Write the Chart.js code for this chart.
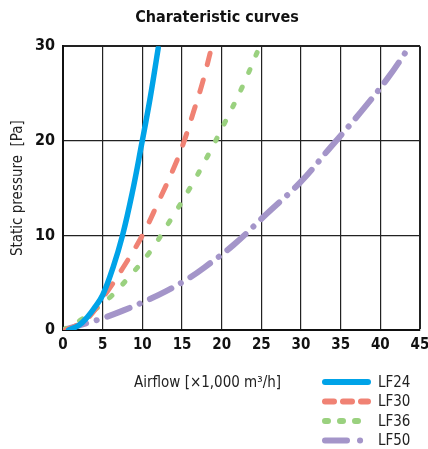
<!DOCTYPE html>
<html>
<head>
<meta charset="utf-8">
<script src="https://cdn.jsdelivr.net/npm/chart.js@4.4.1/dist/chart.umd.min.js"></script>
<style>
  html, body { margin: 0; padding: 0; background: #fff; }
  #wrap { width: 428px; height: 449px; }
</style>
</head>
<body>
<div id="wrap"><canvas id="chartCurves"></canvas></div>
<script>
// values
const seriesNames = ['LF24', 'LF30', 'LF36', 'LF50'];

const lf24Flow = [0.7, 2, 3.1, 4, 5, 6.3, 7.5, 8.7, 9.9, 11, 12];
const lf24Pressure = [0, 0.5, 1.4, 2.4, 3.7, 6.6, 10, 14.4, 19.6, 24.6, 29.8];

const lf30Flow = [0.3, 1.5, 3.1, 5.6, 7.5, 10, 12, 14, 15.2, 16.5, 17.6, 18.7];
const lf30Pressure = [0, 0.4, 1.2, 4.1, 6.5, 10, 13.5, 17.2, 19.8, 23.2, 26.2, 29.8];

const lf36Flow = [0, 2.3, 4.4, 6.1, 7.9, 10.9, 13.6, 16, 18.3, 20.5, 22.6, 24.8];
const lf36Pressure = [0, 1.1, 2.4, 3.6, 5.2, 8.2, 11.7, 15, 18.5, 22.1, 25.7, 30];

const lf50Flow = [0, 2.9, 5.2, 7.7, 10.5, 13, 15.9, 17.8, 21.5, 25.7, 29.9, 33.7, 37.5, 41, 43.7];
const lf50Pressure = [0, 0.7, 1.3, 2.1, 3.1, 4.1, 5.5, 6.6, 9, 12.3, 15.6, 19.3, 23, 26.7, 30];

const xTicks = [0, 5, 10, 15, 20, 25, 30, 35, 40, 45];
const yTicks = [0, 10, 20, 30];

const COLORS = {
    blue: '#00a3e8',
    salmon: '#f08274',
    green: '#9ad17f',
    purple: '#a495c9'
};

const NARROW = "'DejaVu Sans Condensed', 'Liberation Sans Narrow', 'Roboto', sans-serif";

function toPoints(xs, ys) {
    return xs.map((x, i) => ({ x: x, y: ys[i] }));
}

const datasets = [
    {
        label: seriesNames[0],
        data: toPoints(lf24Flow, lf24Pressure),
        borderColor: COLORS.blue,
        borderWidth: 5.5,
        borderDash: [],
        legendDash: []
    }, {
        label: seriesNames[1],
        data: toPoints(lf30Flow, lf30Pressure),
        borderColor: COLORS.salmon,
        borderWidth: 5,
        borderDash: [12, 16],
        legendDash: [9, 9]
    }, {
        label: seriesNames[2],
        data: toPoints(lf36Flow, lf36Pressure),
        borderColor: COLORS.green,
        borderWidth: 5,
        borderDash: [3, 16],
        legendDash: [3, 12]
    }, {
        label: seriesNames[3],
        data: toPoints(lf50Flow, lf50Pressure),
        borderColor: COLORS.purple,
        borderWidth: 6,
        borderDash: [24, 11, 0.1, 11],
        legendDash: [22, 13, 0.1, 13]
    }
];

datasets.forEach(d => {
    d.showLine = true;
    d.fill = false;
    d.pointRadius = 0;
    d.pointHoverRadius = 0;
    d.borderCapStyle = 'round';
    d.tension = 0.4;
});

// x axis title + the stacked legend under the plot
const bottomText = {
    id: 'bottomText',
    afterDraw(chart) {
        const ctx = chart.ctx;
        const area = chart.chartArea;
        ctx.save();
        ctx.fillStyle = '#222';
        ctx.textBaseline = 'middle';
        ctx.font = '15px ' + NARROW;
        ctx.textAlign = 'left';
        ctx.fillText('Airflow [\u00d71,000 m\u00b3/h]', area.left + 71, area.bottom + 53);

        const x0 = area.right - 95;
        const x1 = area.right - 52;
        chart.data.datasets.forEach((d, i) => {
            const y = area.bottom + 52 + i * 19.5;
            ctx.beginPath();
            ctx.strokeStyle = d.borderColor;
            ctx.lineWidth = 6;
            ctx.lineCap = 'round';
            ctx.setLineDash(d.legendDash);
            ctx.moveTo(x0, y);
            ctx.lineTo(x1, y);
            ctx.stroke();
            ctx.setLineDash([]);
            ctx.fillText(d.label, area.right - 42, y + 1);
        });
        ctx.restore();
    }
};

const config = {
    type: 'scatter',
    data: { datasets: datasets },
    options: {
        responsive: true,
        maintainAspectRatio: false,
        animation: false,
        layout: {
            padding: { left: 6, right: 0, top: 0, bottom: 89 }
        },
        plugins: {
            legend: { display: false },
            tooltip: { enabled: false },
            title: {
                display: true,
                text: 'Charateristic curves',
                color: '#111',
                font: { family: NARROW, size: 16, weight: 'bold' },
                padding: { top: 8, bottom: 19 }
            }
        },
        scales: {
            x: {
                type: 'linear',
                min: 0,
                max: 45,
                afterBuildTicks: axis => { axis.ticks = xTicks.map(v => ({ value: v })); },
                // let the last tick label run to the canvas edge like the original
                afterFit: axis => { axis.paddingRight = 8; },
                ticks: {
                    color: '#111',
                    padding: 6,
                    font: { family: NARROW, size: 15, weight: 'bold' },
                    maxRotation: 0
                },
                grid: {
                    color: '#222',
                    lineWidth: c => (c.tick && c.tick.value === 45 ? 2 : 1.2),
                    drawTicks: false
                },
                border: { color: '#111', width: 2 }
            },
            y: {
                type: 'linear',
                min: 0,
                max: 30,
                afterBuildTicks: axis => { axis.ticks = yTicks.map(v => ({ value: v })); },
                ticks: {
                    color: '#111',
                    padding: 8,
                    font: { family: NARROW, size: 16, weight: 'bold' }
                },
                title: {
                    display: true,
                    text: 'Static pressure  [Pa]',
                    color: '#222',
                    font: { family: NARROW, size: 15 },
                    padding: { top: 3, bottom: 0 }
                },
                grid: {
                    color: '#222',
                    lineWidth: c => (c.tick && c.tick.value === 30 ? 2 : 1.2),
                    drawTicks: false
                },
                border: { color: '#111', width: 2 }
            }
        }
    },
    plugins: [bottomText]
};

new Chart(document.getElementById('chartCurves').getContext('2d'), config);
</script>
</body>
</html>
